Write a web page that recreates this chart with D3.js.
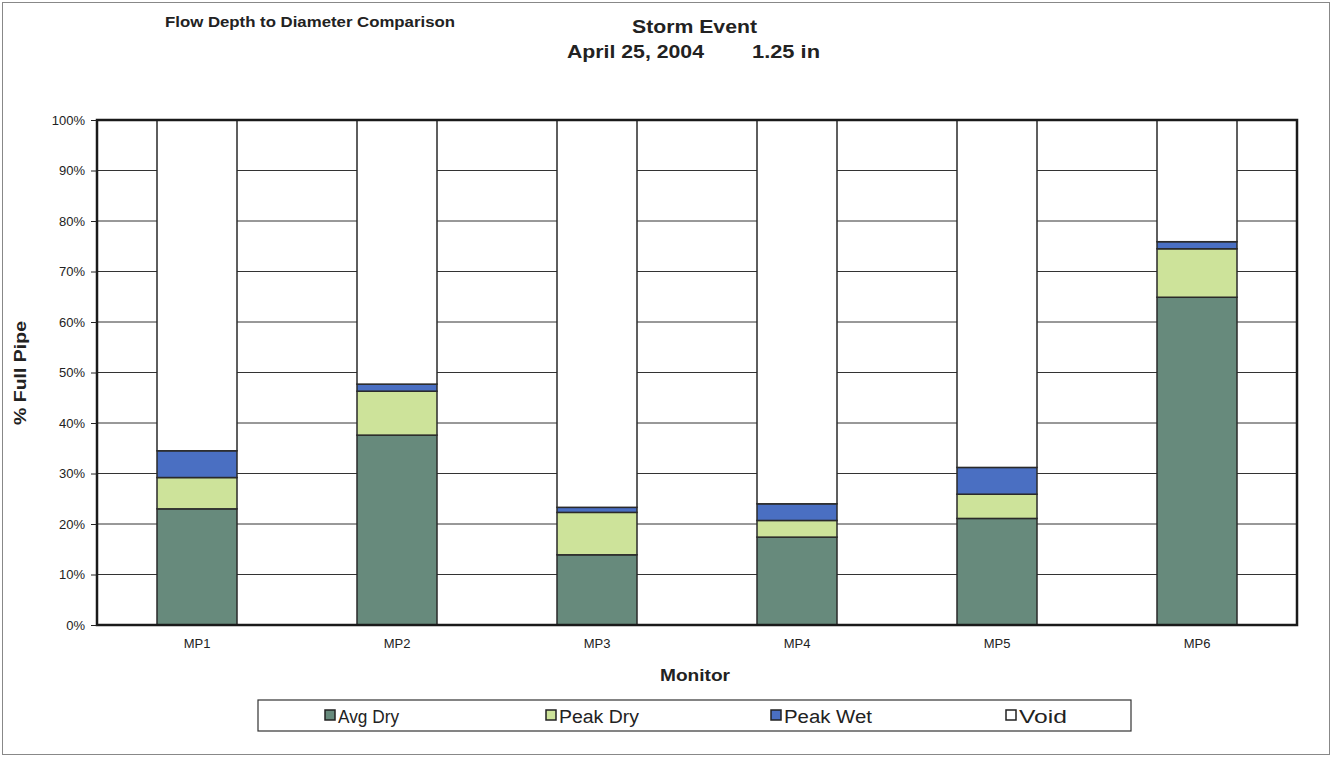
<!DOCTYPE html>
<html>
<head>
<meta charset="utf-8">
<script src="https://cdn.jsdelivr.net/npm/d3@7"></script>
<style>
  html, body { margin: 0; padding: 0; background: #fff; }
  svg { display: block; font-family: "Liberation Sans", Arial, sans-serif; }
</style>
</head>
<body>
<svg id="chart" width="1332" height="758"></svg>
<script>
// ---- data ----
const categories = ["MP1", "MP2", "MP3", "MP4", "MP5", "MP6"];
const seriesNames = ["Avg Dry", "Peak Dry", "Peak Wet", "Void"];
const avgDry  = [23.0, 37.6, 13.9, 17.4, 21.1, 64.9];
const peakDry = [6.2, 8.7, 8.4, 3.3, 4.8, 9.6];
const peakWet = [5.3, 1.4, 1.0, 3.3, 5.3, 1.4];
const voidPct = [65.5, 52.3, 76.7, 76.0, 68.8, 24.1];
const yTicks = [0, 10, 20, 30, 40, 50, 60, 70, 80, 90, 100];

const colors = ["#678a7c", "#cde39a", "#4a6fc2", "#ffffff"];

const rows = categories.map((c, i) => ({
  cat: c, "Avg Dry": avgDry[i], "Peak Dry": peakDry[i], "Peak Wet": peakWet[i], "Void": voidPct[i]
}));
const stacked = d3.stack().keys(seriesNames)(rows);

const svg = d3.select("#chart");
const W = 1332, H = 758;

// outer frame
svg.append("rect").attr("x", 2.5).attr("y", 2.5).attr("width", W - 5).attr("height", H - 6)
  .attr("fill", "none").attr("stroke", "#888").attr("stroke-width", 1);

const plot = { left: 97, right: 1297, top: 120, bottom: 625 };
const x = d3.scaleBand().domain(categories).range([plot.left, plot.right]).paddingInner(0.6).paddingOuter(0.3);
const y = d3.scaleLinear().domain([0, 100]).range([plot.bottom, plot.top]);

// gridlines
const g = svg.append("g");
g.selectAll("line.grid").data(yTicks).enter().append("line")
  .attr("x1", plot.left).attr("x2", plot.right)
  .attr("y1", d => y(d)).attr("y2", d => y(d))
  .attr("stroke", "#333").attr("stroke-width", 1);

// bars
const layers = g.selectAll("g.layer").data(stacked).enter().append("g")
  .attr("fill", (d, i) => colors[i]);
layers.selectAll("rect").data(d => d).enter().append("rect")
  .attr("x", d => x(d.data.cat))
  .attr("width", x.bandwidth())
  .attr("y", d => y(d[1]))
  .attr("height", d => y(d[0]) - y(d[1]))
  .attr("stroke", "#2a2a2a").attr("stroke-width", 1.5);

// plot border
svg.append("rect").attr("x", plot.left).attr("y", plot.top)
  .attr("width", plot.right - plot.left).attr("height", plot.bottom - plot.top)
  .attr("fill", "none").attr("stroke", "#1a1a1a").attr("stroke-width", 2.5);

// y axis
const yAxis = d3.axisLeft(y).tickValues(yTicks).tickFormat(d => d + "%").tickSize(6).tickPadding(6);
const ya = svg.append("g").attr("transform", `translate(${plot.left},0)`).call(yAxis);
ya.select(".domain").remove();
ya.selectAll("text").attr("font-size", 13).attr("fill", "#222").attr("font-family", "Liberation Sans, Arial, sans-serif");
ya.selectAll("line").attr("stroke", "#222");

// x axis
const xAxis = d3.axisBottom(x).tickSize(0).tickPadding(14);
const xa = svg.append("g").attr("transform", `translate(0,${plot.bottom})`).call(xAxis);
xa.select(".domain").remove();
xa.selectAll("text").attr("font-size", 13).attr("fill", "#222").attr("font-family", "Liberation Sans, Arial, sans-serif");

// titles
svg.append("text").attr("x", 165).attr("y", 27).attr("text-anchor", "start")
  .attr("font-size", 15).attr("font-weight", "bold").attr("fill", "#222")
  .attr("textLength", 290).attr("lengthAdjust", "spacingAndGlyphs")
  .text("Flow Depth to Diameter Comparison");
svg.append("text").attr("x", 632).attr("y", 33).attr("text-anchor", "start")
  .attr("font-size", 19).attr("font-weight", "bold").attr("fill", "#222")
  .attr("textLength", 125).attr("lengthAdjust", "spacingAndGlyphs")
  .text("Storm Event");
svg.append("text").attr("x", 567).attr("y", 58).attr("text-anchor", "start")
  .attr("font-size", 18.5).attr("font-weight", "bold").attr("fill", "#222")
  .attr("textLength", 137).attr("lengthAdjust", "spacingAndGlyphs")
  .text("April 25, 2004");
svg.append("text").attr("x", 752).attr("y", 58).attr("text-anchor", "start")
  .attr("font-size", 18.5).attr("font-weight", "bold").attr("fill", "#222")
  .attr("textLength", 68).attr("lengthAdjust", "spacingAndGlyphs")
  .text("1.25 in");

// axis titles
svg.append("text").attr("transform", `translate(26,${(plot.top + plot.bottom) / 2 + 0.5}) rotate(-90)`)
  .attr("text-anchor", "middle").attr("font-size", 17).attr("font-weight", "bold").attr("fill", "#222")
  .attr("textLength", 104).attr("lengthAdjust", "spacingAndGlyphs")
  .text("% Full Pipe");
svg.append("text").attr("x", 695).attr("y", 681).attr("text-anchor", "middle")
  .attr("font-size", 17).attr("font-weight", "bold").attr("fill", "#222")
  .attr("textLength", 70).attr("lengthAdjust", "spacingAndGlyphs")
  .text("Monitor");

// legend
const lg = svg.append("g");
lg.append("rect").attr("x", 258).attr("y", 700).attr("width", 873).attr("height", 31)
  .attr("fill", "#fff").attr("stroke", "#333").attr("stroke-width", 1.2);
const legendX = [325, 546, 771, 1006];
const legendLen = [61, 80, 88, 48];
seriesNames.forEach((s, i) => {
  lg.append("rect").attr("x", legendX[i]).attr("y", 710).attr("width", 10).attr("height", 10)
    .attr("fill", colors[i]).attr("stroke", "#222").attr("stroke-width", 1.5);
  lg.append("text").attr("x", legendX[i] + 13).attr("y", 722.5)
    .attr("font-size", 18).attr("fill", "#222")
    .attr("textLength", legendLen[i]).attr("lengthAdjust", "spacingAndGlyphs")
    .text(s);
});
</script>
</body>
</html>
